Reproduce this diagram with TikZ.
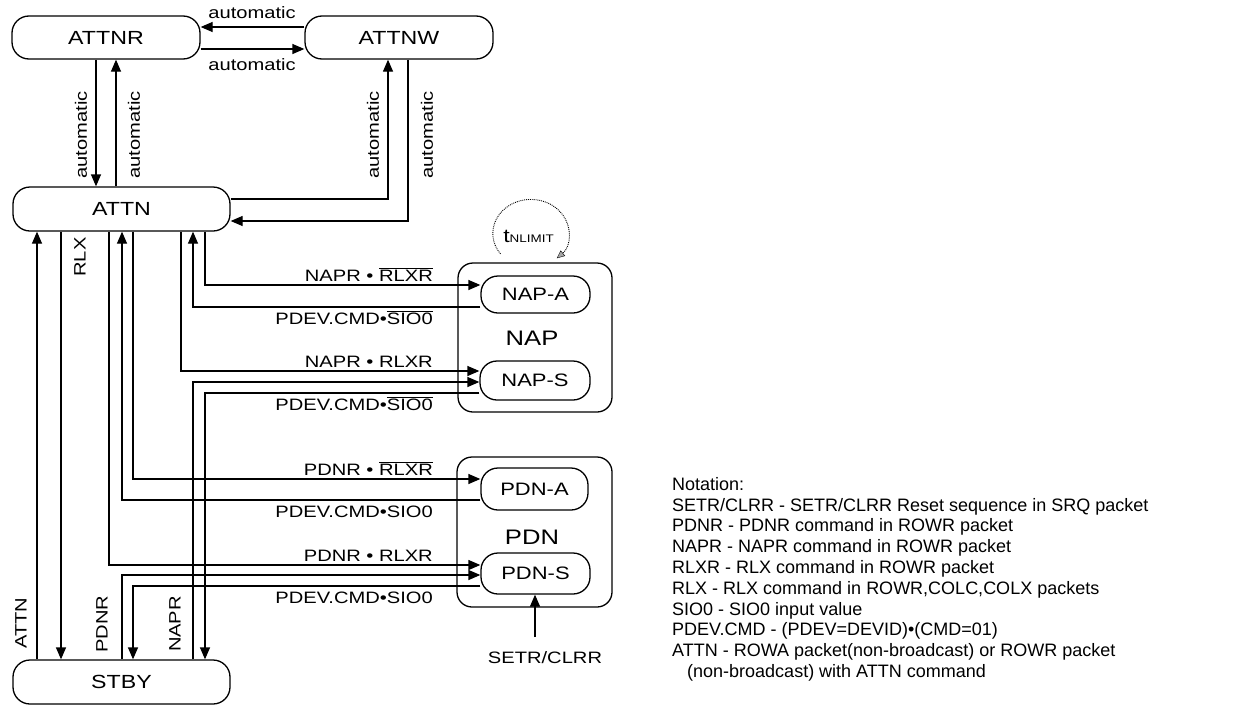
\documentclass[tikz,border=0pt]{standalone}
\usepackage{fontspec}
\setmainfont{Liberation Sans}
\newfontfamily\lblfont[FakeStretch=1.22]{Liberation Sans}
\usetikzlibrary{arrows.meta,backgrounds}
\newcommand\ovl[1]{$\overline{\hbox{#1}}$}
\begin{document}
\begin{tikzpicture}[x=1pt,y=-1pt,
  conn/.style={line width=1.3pt},
  arr/.style={conn,-{Triangle[length=12pt,width=10pt]}},
  state/.style={draw,fill=white,line width=1.3pt,rounded corners=17pt,inner sep=0pt,
    font=\lblfont\fontsize{19}{19}\selectfont},
  group/.style={draw,line width=1.3pt,rounded corners=15pt,inner sep=0pt},
  lab/.style={inner sep=0pt,font=\lblfont\fontsize{16.5}{18}\selectfont},
  biglab/.style={inner sep=0pt,font=\lblfont\fontsize{21}{22}\selectfont},
  notef/.style={inner sep=0pt,align=left,font=\fontsize{18}{20.8}\selectfont}]
\useasboundingbox (0,0) rectangle (1244,715);

% states
\node[state,minimum width=188pt,minimum height=43pt] (ATTNR) at (106,37.5) {ATTNR};
\node[state,minimum width=188pt,minimum height=43pt] (ATTNW) at (399,37.5) {ATTNW};
\node[state,minimum width=217pt,minimum height=44pt] (ATTN) at (121.5,209) {ATTN};
\node[state,minimum width=217pt,minimum height=44pt] (STBY) at (121.5,682) {STBY};

\node[group,minimum width=154pt,minimum height=149pt] (NAP) at (535,337.5) {};
\node[state,minimum width=109pt,minimum height=37pt,font=\lblfont\fontsize{18}{18}\selectfont] (NAPA) at (535.5,294.5) {NAP-A};
\node[state,minimum width=110pt,minimum height=39pt,font=\lblfont\fontsize{18}{18}\selectfont] (NAPS) at (535,380.5) {NAP-S};
\node[biglab,anchor=base] (NAPlab) at (532,345) {NAP};

\node[group,minimum width=155pt,minimum height=150pt] (PDN) at (534.5,532) {};
\node[state,minimum width=107pt,minimum height=42pt,font=\lblfont\fontsize{18}{18}\selectfont] (PDNA) at (534.5,489) {PDN-A};
\node[state,minimum width=109pt,minimum height=41pt,font=\lblfont\fontsize{18}{18}\selectfont] (PDNS) at (535.5,573.5) {PDN-S};
\node[biglab,anchor=base] (PDNlab) at (532,544) {PDN};

\coordinate (setr) at (535,637);
\node[lab,anchor=base] (setrlab) at (545,663) {SETR/CLRR};

% tNLIMIT loop
\node[inner sep=0pt,anchor=base] (tnl) at (528.5,242)
  {\lblfont\fontsize{19}{19}\selectfont t\fontsize{11}{12}\selectfont NLIMIT};

\begin{scope}[on background layer]
\draw[arr] (ATTNW.west |- 0,27) -- (ATTNR.east |- 0,27);
\draw[arr] (ATTNR.east |- 0,49) -- (ATTNW.west |- 0,49);
\draw[arr] (ATTNR.south -| 96,0) -- (ATTN.north -| 96,0);
\draw[arr] (ATTN.north -| 116,0) -- (ATTNR.south -| 116,0);
\draw[arr] (ATTN.east |- 0,199) -| (ATTNW.south -| 388,0);
\draw[arr] (ATTNW.south -| 408,0) |- (ATTN.east |- 0,221);

\draw[arr] (STBY.north -| 37,0) -- (ATTN.south -| 37,0);
\draw[arr] (ATTN.south -| 61,0) -- (STBY.north -| 61,0);
\draw[arr] (ATTN.south -| 109,0) |- (PDNS.west |- 0,565);
\draw[arr] (STBY.north -| 122,0) |- (PDNS.west |- 0,575);
\draw[arr] (PDNS.west |- 0,586) -| (STBY.north -| 133,0);
\draw[arr] (ATTN.south -| 133,0) |- (PDNA.west |- 0,479);
\draw[arr] (PDNA.west |- 0,500) -| (ATTN.south -| 122,0);
\draw[arr] (ATTN.south -| 181,0) |- (NAPS.west |- 0,371);
\draw[arr] (STBY.north -| 193,0) |- (NAPS.west |- 0,382);
\draw[arr] (NAPS.west |- 0,393) -| (STBY.north -| 205,0);
\draw[arr] (ATTN.south -| 205,0) |- (NAPA.west |- 0,285);
\draw[arr] (NAPA.west |- 0,307) -| (ATTN.south -| 193,0);
\draw[arr] (setr) -- (PDNS.south -| 535,0);

\draw[densely dotted,line width=0.9pt,
  -{Triangle[length=8pt,width=7pt,fill=gray!70,line width=0.4pt]}]
  (500.5,253.9) arc[start angle=217,end angle=-47,x radius=38pt,y radius=34pt];
\end{scope}

% labels
\node[lab] (la1) at (252,13) {automatic};
\node[lab] (la2) at (252,65) {automatic};
\node[lab,rotate=90] (la3) at (81,135) {automatic};
\node[lab,rotate=90] (la4) at (134,135) {automatic};
\node[lab,rotate=90] (la5) at (373,135) {automatic};
\node[lab,rotate=90] (la6) at (427,135) {automatic};

\node[lab,rotate=90] (lrlx) at (80,257) {RLX};
\node[lab,rotate=90] (lattn) at (21,623) {ATTN};
\node[lab,rotate=90] (lpdnr) at (102,624) {PDNR};
\node[lab,rotate=90] (lnapr) at (175,624) {NAPR};

\node[lab,anchor=base east] (ln1) at (433,281) {NAPR \textbullet{} \ovl{RLXR}};
\node[lab,anchor=base east] (ln2) at (433,324.5) {PDEV.CMD\textbullet\ovl{SIO0}};
\node[lab,anchor=base east] (ln3) at (433,367) {NAPR \textbullet{} RLXR};
\node[lab,anchor=base east] (ln4) at (433,410.5) {PDEV.CMD\textbullet\ovl{SIO0}};
\node[lab,anchor=base east] (lp1) at (433,475) {PDNR \textbullet{} \ovl{RLXR}};
\node[lab,anchor=base east] (lp2) at (433,517.5) {PDEV.CMD\textbullet SIO0};
\node[lab,anchor=base east] (lp3) at (433,561) {PDNR \textbullet{} RLXR};
\node[lab,anchor=base east] (lp4) at (433,603.5) {PDEV.CMD\textbullet SIO0};

% notation
\node[notef,anchor=north west] (notation) at (672,477) {Notation:\\
SETR/CLRR - SETR/CLRR Reset sequence in SRQ packet\\
PDNR - PDNR command in ROWR packet\\
NAPR - NAPR command in ROWR packet\\
RLXR - RLX command in ROWR packet\\
RLX - RLX command in ROWR,COLC,COLX packets\\
SIO0 - SIO0 input value\\
PDEV.CMD - (PDEV=DEVID)\textbullet(CMD=01)\\
ATTN - ROWA packet(non-broadcast) or ROWR packet\\
\hspace*{15pt}(non-broadcast) with ATTN command};
\end{tikzpicture}
\end{document}
